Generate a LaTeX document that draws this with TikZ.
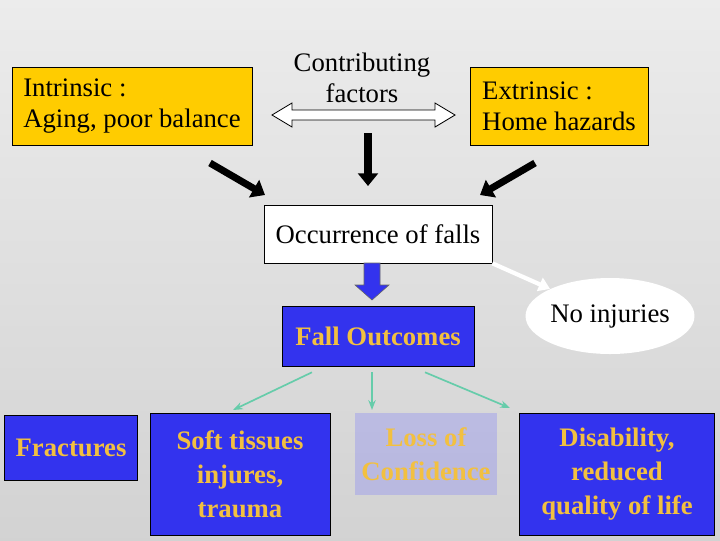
\documentclass[tikz,border=0pt]{standalone}
\usepackage{fontspec}
\setmainfont{Liberation Serif}
\usetikzlibrary{shapes,arrows,arrows.meta,positioning,fit,calc}
\definecolor{fallblue}{HTML}{3333EE}
\definecolor{gold}{HTML}{F2C040}
\definecolor{boxyellow}{HTML}{FFCC00}
\definecolor{teal}{HTML}{66CCAA}

\begin{document}
\begin{tikzpicture}[x=0.025cm,y=-0.025cm,
    factor/.style={draw=black,fill=boxyellow,align=left,font=\fontsize{19}{22}\selectfont,inner sep=0pt},
    outcome/.style={draw=black,fill=fallblue,text=gold,align=center,font=\bfseries\fontsize{19}{24}\selectfont,inner sep=0pt},
    thick arrow/.style={line width=5pt,-{Triangle[length=9pt,width=14pt]}},
    branch/.style={draw=teal,line width=1.2pt,-{Stealth[length=7pt]}}]
    \shade[top color=gray!15,bottom color=gray!35] (0,0) rectangle (720,540);
    \useasboundingbox (0,0) rectangle (720,540);

    \node[factor,minimum width=240*0.025cm,minimum height=78*0.025cm] (intr) at (132,106) {Intrinsic :\\Aging, poor balance};
    \node[factor,minimum width=178*0.025cm,minimum height=78*0.025cm] (extr) at (559,106) {Extrinsic :\\Home hazards};
    \node[align=center,font=\fontsize{19}{22}\selectfont] (contr) at (362,78) {Contributing\\factors};
    \coordinate (cl) at (272,115);
    \coordinate (cr) at (455,115);
    \draw[fill=white,line width=0.6pt] (272,115) -- (292,103) -- (292,110) -- (435,110) -- (435,103) -- (455,115) -- (435,127) -- (435,120) -- (292,120) -- (292,127) -- cycle;

    \node[draw=black,fill=white,minimum width=228*0.025cm,minimum height=58*0.025cm,inner sep=0pt,font=\fontsize{19}{22}\selectfont] (occ) at (378,234) {Occurrence of falls};
    \coordinate (a1) at (210,163);
    \coordinate (a2) at (368,133);
    \coordinate (a3) at (535,163);
    \draw[thick arrow] (a1) -- (265,195);
    \draw[thick arrow] (a2) -- (368,186);
    \draw[thick arrow] (a3) -- (480,195);

    \node[outcome,minimum width=192*0.025cm,minimum height=60*0.025cm] (fo) at (378,336) {Fall Outcomes};
    \draw[fill=fallblue,draw=black!60] (364,263) -- (380,263) -- (380,285) -- (389,285) -- (372,300) -- (355,285) -- (364,285) -- cycle;

    \node[ellipse,fill=white,minimum width=132*0.025cm,minimum height=76*0.025cm,inner sep=0pt,font=\fontsize{19}{22}\selectfont] (noinj) at (610,316) {No injuries};
    \draw[white,line width=3pt,-{Triangle[length=8pt,width=10pt]}] (occ.south east) -- (noinj.north west);

    \node[outcome,minimum width=133*0.025cm,minimum height=65*0.025cm] (frac) at (71,448) {Fractures};
    \node[outcome,minimum width=180*0.025cm,minimum height=122*0.025cm] (soft) at (240,474) {Soft tissues\\injures,\\trauma};
    \node[outcome,minimum width=142*0.025cm,minimum height=82*0.025cm,fill=fallblue!60!white,fill opacity=0.35,text opacity=1,draw=none,anchor=north] (loss) at (426,413) {Loss of\\Confidence};
    \node[outcome,minimum width=195*0.025cm,minimum height=122*0.025cm] (dis) at (617,474) {Disability,\\reduced\\quality of life};

    \draw[branch] ($(fo.south)+(-66,6)$) -- (233,410);
    \draw[branch] ($(fo.south)+(-6,6)$) -- (372,410);
    \draw[branch] ($(fo.south)+(47,6)$) -- (510,408);
\end{tikzpicture}
\end{document}
